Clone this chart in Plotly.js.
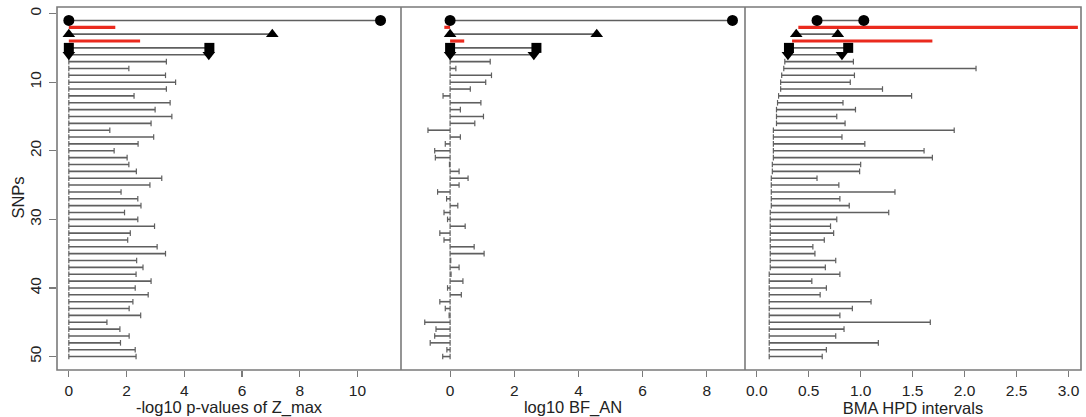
<!DOCTYPE html>
<html>
<head>
<meta charset="utf-8">
<script src="https://cdn.plot.ly/plotly-3.0.1.min.js"></script>
<style>
  html, body { margin: 0; padding: 0; background: #fff; }
  #chart { width: 1086px; height: 417px; }
</style>
</head>
<body>
<div id="chart"></div>
<script>
// SNP index (1..50), top to bottom
const snps = Array.from({length: 50}, (_, i) => i + 1);

// -log10 p-values of Z_max (segments run from 0 to the value)
const zmaxLogP = [
  10.80, 1.61, 7.05, 2.47, 4.87, 4.85, 3.38, 2.08, 3.35, 3.70,
  3.38, 2.26, 3.51, 2.99, 3.57, 2.85, 1.42, 2.94, 2.40, 1.57,
  2.02, 2.08, 2.34, 3.22, 2.81, 1.81, 2.39, 2.50, 1.93, 2.39,
  2.97, 2.13, 2.04, 3.06, 3.35, 2.35, 2.57, 2.33, 2.85, 2.30,
  2.75, 2.22, 2.09, 2.49, 1.32, 1.77, 2.09, 1.79, 2.30, 2.33
];

// log10 BF_AN (segments run from 0 to the value)
const logBF = [
  8.80, -0.18, 4.57, 0.44, 2.69, 2.61, 1.25, 0.18, 1.29, 1.11,
  0.63, -0.22, 0.96, 0.32, 1.04, 0.77, -0.69, 0.32, -0.15, -0.48,
  -0.46, -0.02, 0.28, 0.56, 0.28, -0.39, -0.11, 0.24, -0.19, -0.08,
  0.47, -0.32, -0.19, 0.75, 1.06, 0.02, 0.28, 0.03, 0.40, -0.08,
  0.35, -0.32, -0.15, -0.03, -0.79, -0.44, -0.48, -0.62, -0.10, -0.23
];

// BMA HPD interval bounds
const hpdLow = [
  0.58, 0.40, 0.38, 0.34, 0.31, 0.30, 0.27, 0.26, 0.24, 0.23,
  0.23, 0.21, 0.20, 0.19, 0.19, 0.19, 0.16, 0.16, 0.16, 0.16,
  0.16, 0.15, 0.15, 0.14, 0.14, 0.14, 0.14, 0.14, 0.13, 0.13,
  0.13, 0.13, 0.13, 0.13, 0.13, 0.13, 0.13, 0.12, 0.12, 0.12,
  0.12, 0.12, 0.12, 0.12, 0.12, 0.12, 0.12, 0.12, 0.12, 0.12
];
const hpdHigh = [
  1.03, 3.09, 0.78, 1.69, 0.88, 0.82, 0.93, 2.11, 0.94, 0.90,
  1.21, 1.49, 0.83, 0.95, 0.77, 0.85, 1.90, 0.82, 1.04, 1.61,
  1.69, 1.00, 0.99, 0.58, 0.79, 1.33, 0.80, 0.89, 1.27, 0.77,
  0.71, 0.74, 0.65, 0.54, 0.56, 0.76, 0.66, 0.80, 0.53, 0.67,
  0.61, 1.10, 0.92, 0.80, 1.67, 0.84, 0.76, 1.17, 0.67, 0.63
];

// Axis ticks
const snpTicks = [0, 10, 20, 30, 40, 50];
const zTicks = [0, 2, 4, 6, 8, 10];
const bfTicks = [0, 2, 4, 6, 8];
const hpdTicks = [0, 0.5, 1.0, 1.5, 2.0, 2.5, 3.0];
const hpdTickText = ['0.0', '0.5', '1.0', '1.5', '2.0', '2.5', '3.0'];

// Per-row styling: highlighted rows in red, marker rows with end symbols
const redRows = new Set([2, 4]);
const markerRows = {1: 'circle', 3: 'triangle-up', 5: 'square', 6: 'triangle-down'};

const GRAY = '#5f5f5f';
const RED = '#ea2a1e';
const FRAME = '#7a7a7a';

function panelTraces(lo, hi, xa) {
  const traces = [];
  const gx = [], gy = [], rx = [], ry = [];
  const cx = [], cy = [];
  snps.forEach((s, i) => {
    const a = lo[i], b = hi[i];
    if (redRows.has(s)) {
      rx.push(a, b, null); ry.push(s, s, null);
    } else {
      gx.push(a, b, null); gy.push(s, s, null);
      if (!(s in markerRows)) { cx.push(a, b); cy.push(s, s); }
    }
  });
  traces.push({x: gx, y: gy, xaxis: xa, yaxis: 'y', mode: 'lines',
    line: {color: GRAY, width: 1.6}, hoverinfo: 'skip', showlegend: false});
  traces.push({x: rx, y: ry, xaxis: xa, yaxis: 'y', mode: 'lines',
    line: {color: RED, width: 3.2}, hoverinfo: 'skip', showlegend: false});
  // small end caps on the plain interval rows
  traces.push({x: cx, y: cy, xaxis: xa, yaxis: 'y', mode: 'markers',
    marker: {symbol: 'line-ns-open', size: 4, color: GRAY, line: {color: GRAY, width: 1.2}},
    hoverinfo: 'skip', showlegend: false});
  Object.keys(markerRows).forEach(k => {
    const s = +k, i = s - 1;
    traces.push({x: [lo[i], hi[i]], y: [s, s], xaxis: xa, yaxis: 'y', mode: 'markers',
      marker: {symbol: markerRows[k], size: s === 5 ? 10 : 11, color: '#000'},
      hoverinfo: 'skip', showlegend: false});
  });
  return traces;
}

const zeros = snps.map(() => 0);
const bfLo = logBF.map(v => Math.min(0, v));
const bfHi = logBF.map(v => Math.max(0, v));
const data = [
  ...panelTraces(zeros, zmaxLogP, 'x'),
  ...panelTraces(bfLo, bfHi, 'x2'),
  ...panelTraces(hpdLow, hpdHigh, 'x3')
];

const FAMILY = 'Liberation Sans, Arial, sans-serif';
const TICKFONT = {family: FAMILY, size: 15.5, color: '#222'};
const TITLEFONT = {family: FAMILY, size: 16.5, color: '#222'};
const d1 = (401 - 57) / 1024, d2 = (745 - 57) / 1024;

function xAxis(domain, range, ticks, title, text) {
  const ax = {
    domain: domain, range: range, anchor: 'y',
    tickmode: 'array', tickvals: ticks,
    ticks: 'outside', ticklen: 6, tickwidth: 1.2, tickcolor: FRAME,
    ticklabelstandoff: 0,
    showgrid: false, zeroline: false, showline: false,
    tickfont: TICKFONT,
    title: {text: title, font: TITLEFONT, standoff: 4}
  };
  if (text) ax.ticktext = text;
  return ax;
}

const layout = {
  width: 1086, height: 417,
  margin: {l: 57, r: 5, t: 7, b: 46.5},
  paper_bgcolor: '#fff', plot_bgcolor: '#fff',
  font: TICKFONT,
  showlegend: false,
  xaxis: xAxis([0, d1], [-0.41, 11.51], zTicks, '-log10 p-values of Z_max'),
  xaxis2: xAxis([d1, d2], [-1.53, 9.19], bfTicks, 'log10 BF_AN'),
  xaxis3: xAxis([d2, 1], [-0.113, 3.12], hpdTicks, 'BMA HPD intervals', hpdTickText),
  yaxis: {
    range: [51.96, -0.96], tickmode: 'array', tickvals: snpTicks,
    tickangle: -90, ticks: 'outside', ticklen: 7, tickwidth: 1.2, tickcolor: FRAME,
    ticklabelstandoff: 2,
    showgrid: false, zeroline: false, showline: false,
    tickfont: TICKFONT
  },
  annotations: [
    {text: 'SNPs', xref: 'paper', yref: 'paper', x: (18 - 57) / 1024, y: 0.475,
      xanchor: 'center', yanchor: 'middle', textangle: -90, showarrow: false,
      font: TITLEFONT}
  ],
  shapes: [
    {type: 'rect', xref: 'paper', yref: 'paper', x0: 0, x1: 1, y0: 0, y1: 1,
      line: {color: FRAME, width: 1.6}},
    {type: 'line', xref: 'paper', yref: 'paper', x0: d1, x1: d1, y0: 0, y1: 1,
      line: {color: FRAME, width: 1.6}},
    {type: 'line', xref: 'paper', yref: 'paper', x0: d2, x1: d2, y0: 0, y1: 1,
      line: {color: FRAME, width: 1.6}}
  ]
};

Plotly.newPlot('chart', data, layout, {staticPlot: true, displayModeBar: false});
</script>
</body>
</html>
